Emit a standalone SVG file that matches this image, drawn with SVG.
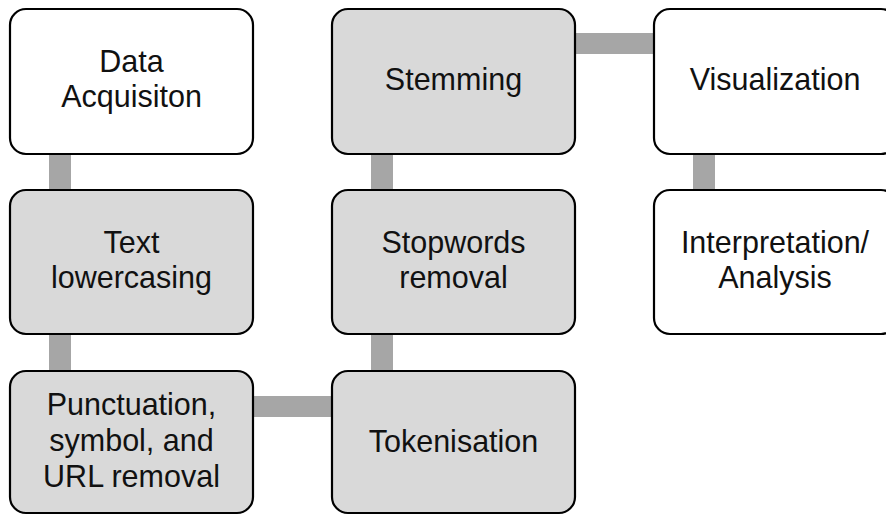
<svg xmlns="http://www.w3.org/2000/svg" width="886" height="515" viewBox="0 0 886 515">
  <style>
    .box { stroke: #000; stroke-width: 2.2; }
    .white { fill: #ffffff; }
    .grey { fill: #d9d9d9; }
    .conn { fill: #a6a6a6; }
    text { font-family: "Liberation Sans", Arial, sans-serif; font-size: 30.5px; fill: #111; text-anchor: middle; }
  </style>
  <rect width="886" height="515" fill="#ffffff"/>
  <g id="connectors">
    <rect class="conn" x="49" y="153" width="22" height="38"/>
    <rect class="conn" x="49" y="333" width="22" height="39"/>
    <rect class="conn" x="252" y="396" width="81" height="21"/>
    <rect class="conn" x="371" y="333" width="22" height="39"/>
    <rect class="conn" x="371" y="153" width="22" height="38"/>
    <rect class="conn" x="574" y="33" width="81" height="21"/>
    <rect class="conn" x="693" y="153" width="22" height="38"/>
  </g>
  <g id="data-acquisition">
    <rect class="box white" x="10" y="9" width="243" height="145" rx="16"/>
    <text x="131.5" y="72">Data</text>
    <text x="131.5" y="107">Acquisiton</text>
  </g>
  <g id="text-lowercasing">
    <rect class="box grey" x="10" y="190" width="243" height="144" rx="16"/>
    <text x="131.5" y="253">Text</text>
    <text x="131.5" y="288">lowercasing</text>
  </g>
  <g id="punctuation-removal">
    <rect class="box grey" x="10" y="371" width="243" height="142" rx="16"/>
    <text x="131.5" y="415">Punctuation,</text>
    <text x="131.5" y="451">symbol, and</text>
    <text x="131.5" y="487">URL removal</text>
  </g>
  <g id="tokenisation">
    <rect class="box grey" x="332" y="371" width="243" height="142" rx="16"/>
    <text x="453.5" y="452">Tokenisation</text>
  </g>
  <g id="stopwords-removal">
    <rect class="box grey" x="332" y="190" width="243" height="144" rx="16"/>
    <text x="453.5" y="253">Stopwords</text>
    <text x="453.5" y="288">removal</text>
  </g>
  <g id="stemming">
    <rect class="box grey" x="332" y="9" width="243" height="145" rx="16"/>
    <text x="453.5" y="90">Stemming</text>
  </g>
  <g id="visualization">
    <rect class="box white" x="654" y="9" width="243" height="145" rx="16"/>
    <text x="775" y="90">Visualization</text>
  </g>
  <g id="interpretation-analysis">
    <rect class="box white" x="654" y="190" width="243" height="144" rx="16"/>
    <text x="775" y="253">Interpretation/</text>
    <text x="775" y="288">Analysis</text>
  </g>
</svg>
